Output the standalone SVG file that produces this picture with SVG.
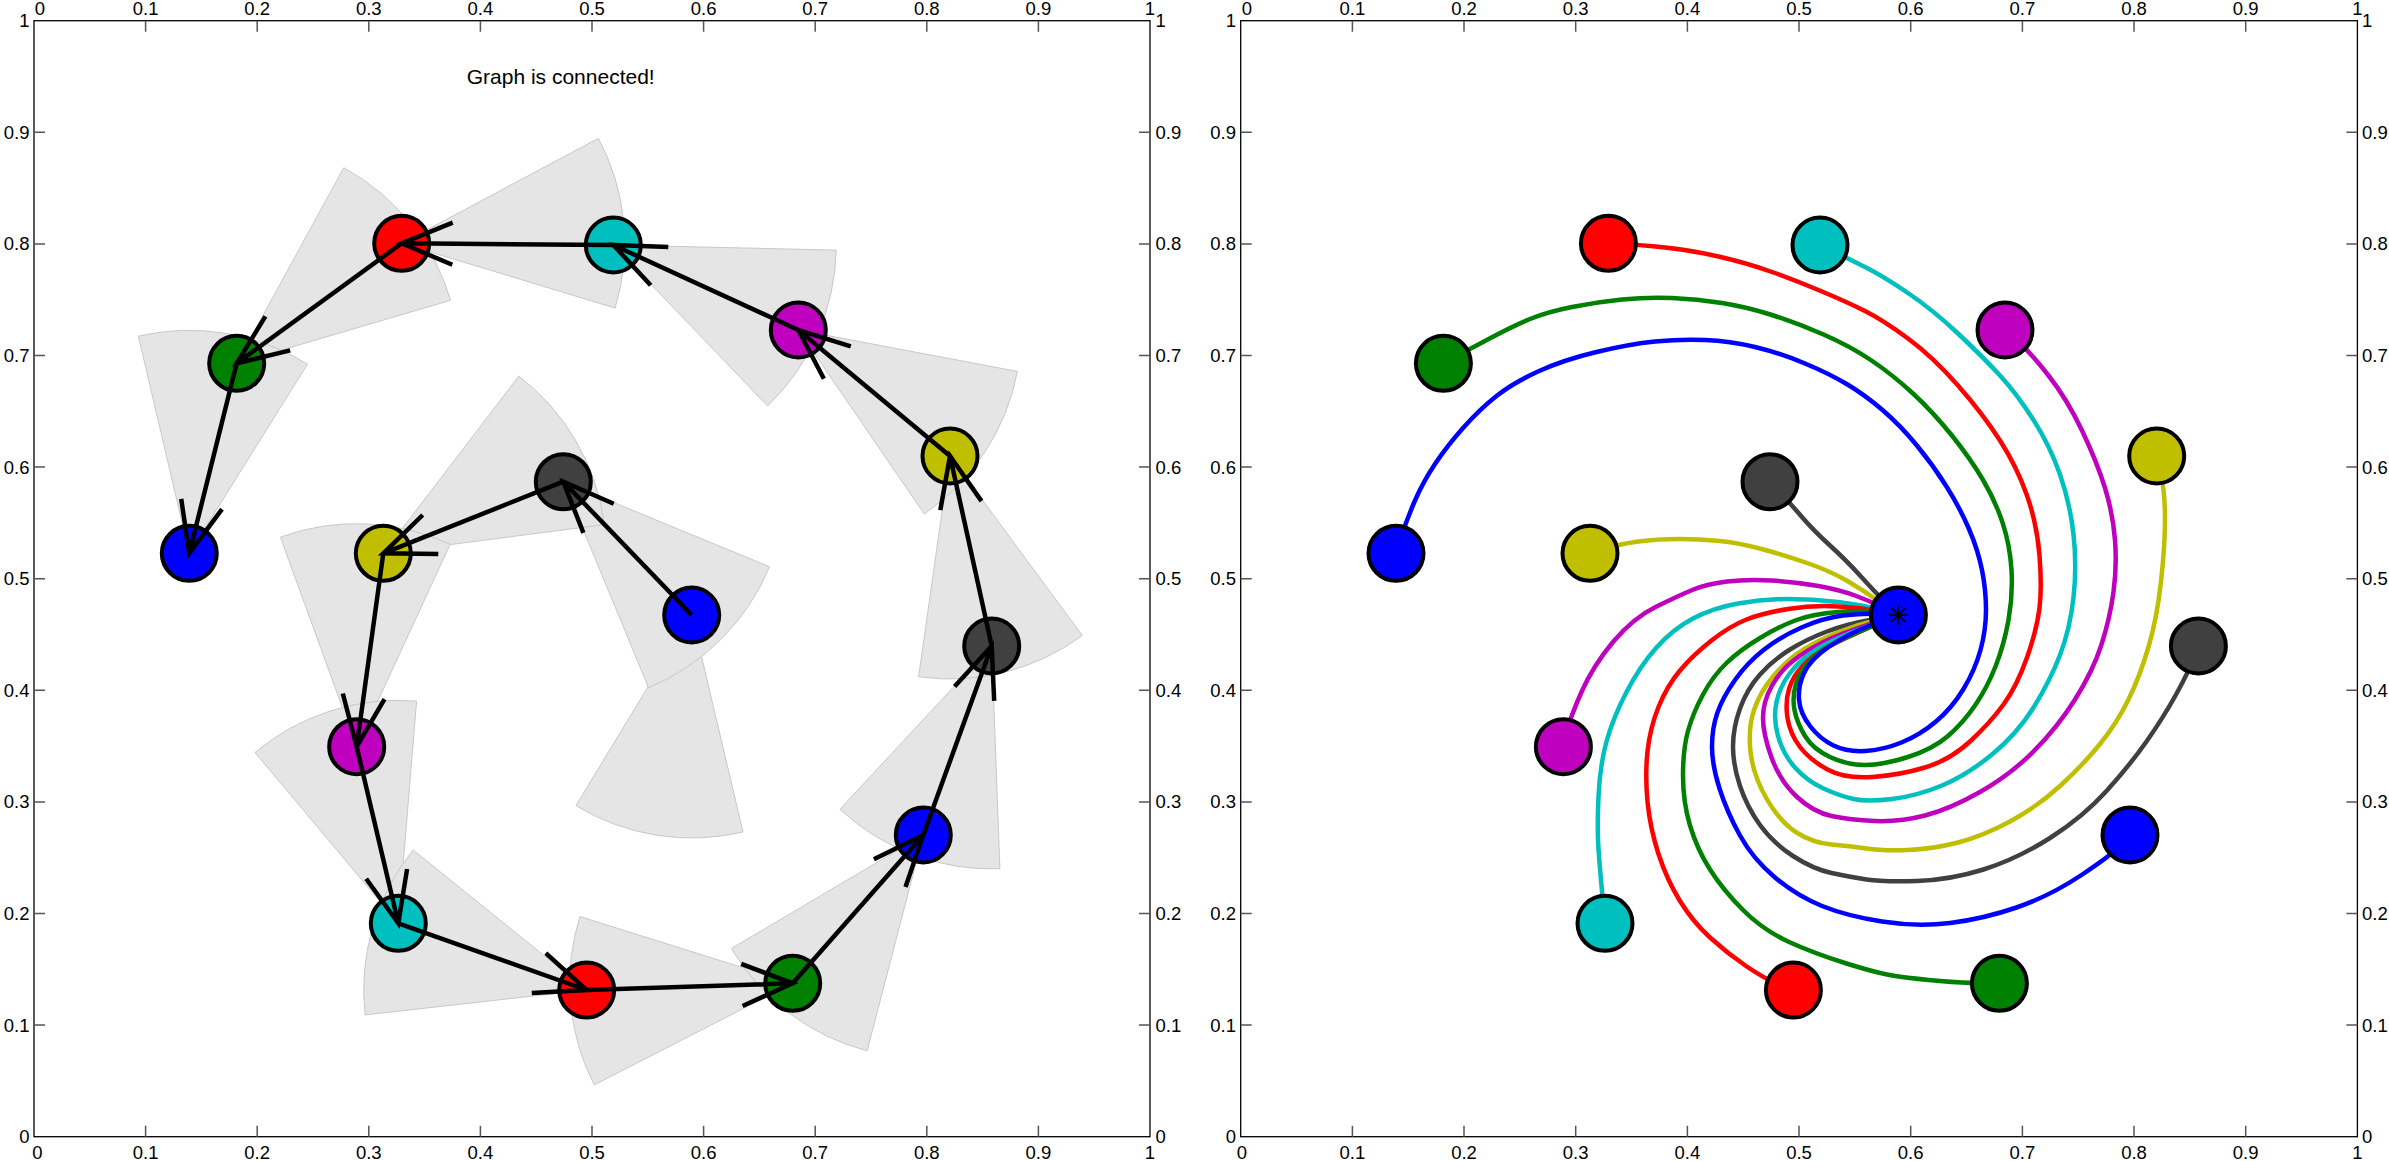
<svg xmlns="http://www.w3.org/2000/svg" width="2389" height="1161" viewBox="0 0 2389 1161">
<style>
.ax{fill:none;stroke:#000;stroke-width:1.3}
.tk{fill:none;stroke:#555;stroke-width:1.5}
.lb{font-family:"Liberation Sans",Arial,sans-serif;font-size:18.5px;fill:#000}
.mid{text-anchor:middle}.end{text-anchor:end}.sta{text-anchor:start}
.sec{fill:#e5e5e5;stroke:#c8c8c8;stroke-width:1}
.edge{fill:none;stroke:#000;stroke-width:4.5;stroke-linecap:butt;stroke-linejoin:miter}
.nd{stroke:#000;stroke-width:4}
.cv{fill:none;stroke-width:4.5;stroke-linejoin:round;stroke-linecap:round}
.b{fill:#0000ff}.g{fill:#008000}.r{fill:#ff0000}.c{fill:#00bfbf}.m{fill:#bf00bf}.y{fill:#bfbf00}.k{fill:#404040}
</style>
<defs>
<clipPath id="clipL"><rect x="0" y="0" width="1181" height="1161"/></clipPath>
</defs>
<rect width="2389" height="1161" fill="#fff"/>

<!-- LEFT AXES -->
<g id="left-axes">
<rect class="ax" x="34" y="20.7" width="1116" height="1116"/>
<path class="tk" d="M145.6 20.7v11M257.2 20.7v11M368.8 20.7v11M480.4 20.7v11M592 20.7v11M703.6 20.7v11M815.2 20.7v11M926.8 20.7v11M1038.4 20.7v11
M145.6 1136.7v-11M257.2 1136.7v-11M368.8 1136.7v-11M480.4 1136.7v-11M592 1136.7v-11M703.6 1136.7v-11M815.2 1136.7v-11M926.8 1136.7v-11M1038.4 1136.7v-11
M34 1025.1h11M34 913.5h11M34 801.9h11M34 690.3h11M34 578.7h11M34 467.1h11M34 355.5h11M34 243.9h11M34 132.3h11
M1150 1025.1h-11M1150 913.5h-11M1150 801.9h-11M1150 690.3h-11M1150 578.7h-11M1150 467.1h-11M1150 355.5h-11M1150 243.9h-11M1150 132.3h-11"/>
<g class="lb mid">
<text x="40" y="15">0</text><text x="145.6" y="15">0.1</text><text x="257.2" y="15">0.2</text><text x="368.8" y="15">0.3</text><text x="480.4" y="15">0.4</text><text x="592" y="15">0.5</text><text x="703.6" y="15">0.6</text><text x="815.2" y="15">0.7</text><text x="926.8" y="15">0.8</text><text x="1038.4" y="15">0.9</text><text x="1150" y="15">1</text>
<text x="37.5" y="1159">0</text><text x="145.6" y="1159">0.1</text><text x="257.2" y="1159">0.2</text><text x="368.8" y="1159">0.3</text><text x="480.4" y="1159">0.4</text><text x="592" y="1159">0.5</text><text x="703.6" y="1159">0.6</text><text x="815.2" y="1159">0.7</text><text x="926.8" y="1159">0.8</text><text x="1038.4" y="1159">0.9</text><text x="1150" y="1159">1</text>
</g>
<g class="lb end">
<text x="29.5" y="1143.2">0</text><text x="29.5" y="1031.6">0.1</text><text x="29.5" y="920">0.2</text><text x="29.5" y="808.4">0.3</text><text x="29.5" y="696.8">0.4</text><text x="29.5" y="585.2">0.5</text><text x="29.5" y="473.6">0.6</text><text x="29.5" y="362">0.7</text><text x="29.5" y="250.4">0.8</text><text x="29.5" y="138.8">0.9</text><text x="29.5" y="27.2">1</text>
</g>
<g class="lb sta" clip-path="url(#clipL)">
<text x="1155.5" y="1143.2">0</text><text x="1155.5" y="1031.6">0.1</text><text x="1155.5" y="920">0.2</text><text x="1155.5" y="808.4">0.3</text><text x="1155.5" y="696.8">0.4</text><text x="1155.5" y="585.2">0.5</text><text x="1155.5" y="473.6">0.6</text><text x="1155.5" y="362">0.7</text><text x="1155.5" y="250.4">0.8</text><text x="1155.5" y="138.8">0.9</text><text x="1155.5" y="27.2">1</text>
</g>
<text id="title" class="lb mid" x="560.7" y="83.5" style="font-size:21px">Graph is connected!</text>
</g>

<!-- SECTORS -->
<g id="sectors">
<path id="sec1" class="sec" d="M691.7 615L575.9 805.6A223 223 0 0 0 743 832Z"/>
<path id="sec2" class="sec" d="M563.3 481.7L648.6 687.7A223 223 0 0 0 769.5 566.7Z"/>
<path id="sec3" class="sec" d="M383.3 553.3L604.4 524.6A223 223 0 0 0 518.8 376.1Z"/>
<path id="sec4" class="sec" d="M356.7 746.7L450.2 544.3A223 223 0 0 0 280.4 537.1Z"/>
<path id="sec5" class="sec" d="M398.3 923.3L416.6 701.1A223 223 0 0 0 255 752.5Z"/>
<path id="sec6" class="sec" d="M586.7 990L413.2 850A223 223 0 0 0 365.1 1014.9Z"/>
<path id="sec7" class="sec" d="M792.7 983.3L579.9 916.6A223 223 0 0 0 594.2 1084.9Z"/>
<path id="sec8" class="sec" d="M923.3 835L731.4 948.5A223 223 0 0 0 867.1 1050.8Z"/>
<path id="sec9" class="sec" d="M991.7 646L839.9 809.3A223 223 0 0 0 999.9 868.8Z"/>
<path id="sec10" class="sec" d="M950 456L918.6 676.8A223 223 0 0 0 1082.3 635.5Z"/>
<path id="sec11" class="sec" d="M798.3 330L924.3 514A223 223 0 0 0 1017.4 371.4Z"/>
<path id="sec12" class="sec" d="M613.3 245L767.6 406A223 223 0 0 0 836.2 250.1Z"/>
<path id="sec13" class="sec" d="M401.7 243.3L615.1 308.1A223 223 0 0 0 598.4 138.3Z"/>
<path id="sec14" class="sec" d="M236.7 363.3L450.6 300.3A223 223 0 0 0 343.8 167.7Z"/>
<path id="sec15" class="sec" d="M189.3 553.3L307.5 364.2A223 223 0 0 0 138.4 336.2Z"/>
</g>

<!-- LEFT NODES -->
<g id="left-nodes">
<g id="L1"><circle class="nd b" cx="691.7" cy="615" r="27.5"/></g>
<g id="L2"><circle class="nd k" cx="563.3" cy="481.7" r="27.5"/></g>
<g id="L3"><circle class="nd y" cx="383.3" cy="553.3" r="27.5"/></g>
<g id="L4"><circle class="nd m" cx="356.7" cy="746.7" r="27.5"/></g>
<g id="L5"><circle class="nd c" cx="398.3" cy="923.3" r="27.5"/></g>
<g id="L6"><circle class="nd r" cx="586.7" cy="990" r="27.5"/></g>
<g id="L7"><circle class="nd g" cx="792.7" cy="983.3" r="27.5"/></g>
<g id="L8"><circle class="nd b" cx="923.3" cy="835" r="27.5"/></g>
<g id="L9"><circle class="nd k" cx="991.7" cy="646" r="27.5"/></g>
<g id="L10"><circle class="nd y" cx="950" cy="456" r="27.5"/></g>
<g id="L11"><circle class="nd m" cx="798.3" cy="330" r="27.5"/></g>
<g id="L12"><circle class="nd c" cx="613.3" cy="245" r="27.5"/></g>
<g id="L13"><circle class="nd r" cx="401.7" cy="243.3" r="27.5"/></g>
<g id="L14"><circle class="nd g" cx="236.7" cy="363.3" r="27.5"/></g>
<g id="L15"><circle class="nd b" cx="189.3" cy="553.3" r="27.5"/></g>
</g>

<!-- LEFT CONNECTORS (arrows) -->
<g id="left-connectors" class="edge">
<path d="M691.7 615L563.3 481.7M583.4 532.9L563.3 481.7L613.7 503.7"/>
<path d="M563.3 481.7L383.3 553.3M438.3 554.1L383.3 553.3L422.7 515"/>
<path d="M383.3 553.3L356.7 746.7M384.5 699.2L356.7 746.7L342.8 693.5"/>
<path d="M356.7 746.7L398.3 923.3M407.1 869L398.3 923.3L366.2 878.7"/>
<path d="M398.3 923.3L586.7 990M545.8 953.2L586.7 990L531.8 992.9"/>
<path d="M586.7 990L792.7 983.3M741.2 963.9L792.7 983.3L742.6 1006"/>
<path d="M792.7 983.3L923.3 835M873.9 859.2L923.3 835L905.5 887"/>
<path d="M923.3 835L991.7 646M954.6 686.6L991.7 646L994.2 700.9"/>
<path d="M991.7 646L950 456M940.3 510.2L950 456L981.5 501.1"/>
<path d="M950 456L798.3 330M823.9 378.7L798.3 330L850.8 346.3"/>
<path d="M798.3 330L613.3 245M650.7 285.3L613.3 245L668.3 247.1"/>
<path d="M613.3 245L401.7 243.3M452.3 264.8L401.7 243.3L452.7 222.7"/>
<path d="M401.7 243.3L236.7 363.3M290.2 350.4L236.7 363.3L265.4 316.4"/>
<path d="M236.7 363.3L189.3 553.3M222 509.1L189.3 553.3L181.2 498.9"/>
</g>

<!-- RIGHT AXES -->
<g id="right-axes">
<rect class="ax" x="1240.7" y="20.7" width="1116.7" height="1116"/>
<path class="tk" d="M1352.4 20.7v11M1464 20.7v11M1575.7 20.7v11M1687.4 20.7v11M1799 20.7v11M1910.7 20.7v11M2022.4 20.7v11M2134 20.7v11M2245.7 20.7v11
M1352.4 1136.7v-11M1464 1136.7v-11M1575.7 1136.7v-11M1687.4 1136.7v-11M1799 1136.7v-11M1910.7 1136.7v-11M2022.4 1136.7v-11M2134 1136.7v-11M2245.7 1136.7v-11
M1240.7 1025.1h11M1240.7 913.5h11M1240.7 801.9h11M1240.7 690.3h11M1240.7 578.7h11M1240.7 467.1h11M1240.7 355.5h11M1240.7 243.9h11M1240.7 132.3h11
M2357.4 1025.1h-11M2357.4 913.5h-11M2357.4 801.9h-11M2357.4 690.3h-11M2357.4 578.7h-11M2357.4 467.1h-11M2357.4 355.5h-11M2357.4 243.9h-11M2357.4 132.3h-11"/>
<g class="lb mid">
<text x="1247" y="15">0</text><text x="1352.4" y="15">0.1</text><text x="1464" y="15">0.2</text><text x="1575.7" y="15">0.3</text><text x="1687.4" y="15">0.4</text><text x="1799" y="15">0.5</text><text x="1910.7" y="15">0.6</text><text x="2022.4" y="15">0.7</text><text x="2134" y="15">0.8</text><text x="2245.7" y="15">0.9</text><text x="2357.4" y="15">1</text>
<text x="1242" y="1159">0</text><text x="1352.4" y="1159">0.1</text><text x="1464" y="1159">0.2</text><text x="1575.7" y="1159">0.3</text><text x="1687.4" y="1159">0.4</text><text x="1799" y="1159">0.5</text><text x="1910.7" y="1159">0.6</text><text x="2022.4" y="1159">0.7</text><text x="2134" y="1159">0.8</text><text x="2245.7" y="1159">0.9</text><text x="2357.4" y="1159">1</text>
</g>
<g class="lb end">
<text x="1236" y="1143.2">0</text><text x="1236" y="1031.6">0.1</text><text x="1236" y="920">0.2</text><text x="1236" y="808.4">0.3</text><text x="1236" y="696.8">0.4</text><text x="1236" y="585.2">0.5</text><text x="1236" y="473.6">0.6</text><text x="1236" y="362">0.7</text><text x="1236" y="250.4">0.8</text><text x="1236" y="138.8">0.9</text><text x="1236" y="27.2">1</text>
</g>
<g class="lb sta">
<text x="2362" y="1143.2">0</text><text x="2362" y="1031.6">0.1</text><text x="2362" y="920">0.2</text><text x="2362" y="808.4">0.3</text><text x="2362" y="696.8">0.4</text><text x="2362" y="585.2">0.5</text><text x="2362" y="473.6">0.6</text><text x="2362" y="362">0.7</text><text x="2362" y="250.4">0.8</text><text x="2362" y="138.8">0.9</text><text x="2362" y="27.2">1</text>
</g>
</g>

<!-- RIGHT CONNECTORS (trajectories) -->
<g id="right-connectors" class="cv">
<path stroke="#bfbf00" d="M1898 615 L1880.5 602.5 Q1863 590 1846.5 580.5 Q1830 571 1808.5 563.5 Q1787 556 1763.5 549.5 Q1740 543 1720 541 Q1700 539 1678.5 539 Q1657 539 1638.5 541.5 Q1620 544 1605 548.5 L1590 553"/>
<path stroke="#404040" d="M1898 615 L1885.5 602.5 Q1873 590 1860 575.5 Q1847 561 1830 545.5 Q1813 530 1801.5 516.5 Q1790 503 1780 492.5 L1770 482"/>
<path stroke="#bf00bf" d="M1898 615 L1884 608 Q1870 601 1855 595.5 Q1840 590 1818.5 586 Q1797 582 1772 580.5 Q1747 579 1727 581.5 Q1707 584 1693.5 589.5 Q1680 595 1656.5 606.5 Q1633 618 1613 642 Q1593 666 1581.5 692 Q1570 718 1566.5 732.5 L1563 747"/>
<path stroke="#00bfbf" d="M1898 615 L1880.5 610 Q1863 605 1838 602 Q1813 599 1788 599 Q1763 599 1738 603.5 Q1713 608 1693 618.5 Q1673 629 1656.5 647.5 Q1640 666 1626.5 692 Q1613 718 1606.5 741.5 Q1600 765 1598.5 796.5 Q1597 828 1598.5 849 Q1600 870 1602.5 896.5 L1605 923"/>
<path stroke="#ff0000" d="M1898 615 L1880.5 611.5 Q1863 608 1838 606.5 Q1813 605 1788 609 Q1763 613 1746.5 619.5 Q1730 626 1711.5 640.5 Q1693 655 1680 670.5 Q1667 686 1658.5 707 Q1650 728 1647.5 751.5 Q1645 775 1647.5 801.5 Q1650 828 1658.5 854 Q1667 880 1680 901 Q1693 922 1710 937.5 Q1727 953 1746 966 Q1765 979 1779 984.5 L1793 990"/>
<path stroke="#008000" d="M1898 615 L1880.5 612.5 Q1863 610 1838 612 Q1813 614 1796.5 620 Q1780 626 1760 638 Q1740 650 1726.5 663 Q1713 676 1703 694.5 Q1693 713 1688 731 Q1683 749 1683 775.5 Q1683 802 1690 825.5 Q1697 849 1710 869.5 Q1723 890 1743 910 Q1763 930 1788 941.5 Q1813 953 1846.5 963.5 Q1880 974 1898.5 976.5 Q1917 979 1940 981 Q1963 983 1981 983 L1999 983"/>
<path stroke="#0000ff" d="M1898 615 L1880.5 614 Q1863 613 1843 615.5 Q1823 618 1801.5 627.5 Q1780 637 1763.5 650 Q1747 663 1735 680 Q1723 697 1717.5 712.5 Q1712 728 1712 746.5 Q1712 765 1719.5 788.5 Q1727 812 1740 835.5 Q1753 859 1775 877.5 Q1797 896 1822 906 Q1847 916 1882 921.5 Q1917 927 1950 923 Q1983 919 2016.5 907.5 Q2050 896 2081.5 875 Q2113 854 2121.5 844.5 L2130 835"/>
<path stroke="#404040" d="M1898 615 L1872.5 619.5 Q1847 624 1827 631.5 Q1807 639 1790 649.5 Q1773 660 1760 674.5 Q1747 689 1740 708.5 Q1733 728 1733 746.5 Q1733 765 1740 786 Q1747 807 1760 825 Q1773 843 1793 856 Q1813 869 1831.5 873 Q1850 877 1866.5 879.5 Q1883 882 1916.5 881 Q1950 880 1983.5 869.5 Q2017 859 2050 838 Q2083 817 2106.5 791 Q2130 765 2146.5 741.5 Q2163 718 2175.5 695.5 Q2188 673 2193 659.5 L2198 646"/>
<path stroke="#bfbf00" d="M1898 615 L1879 619.5 Q1860 624 1840 631.5 Q1820 639 1803.5 649.5 Q1787 660 1773.5 676 Q1760 692 1754 710 Q1748 728 1750.5 751.5 Q1753 775 1766.5 798.5 Q1780 822 1796.5 832.5 Q1813 843 1831.5 844.5 Q1850 846 1866.5 848.5 Q1883 851 1908 850 Q1933 849 1958 842.5 Q1983 836 2010 821.5 Q2037 807 2060 786 Q2083 765 2100 744 Q2117 723 2128.5 699.5 Q2140 676 2148.5 647 Q2157 618 2161 581.5 Q2165 545 2165 519 Q2165 493 2161 474.5 L2157 456"/>
<path stroke="#bf00bf" d="M1898 615 L1869 624.5 Q1840 634 1823.5 642 Q1807 650 1793.5 660.5 Q1780 671 1771.5 686.5 Q1763 702 1763 718 Q1763 734 1771.5 757.5 Q1780 781 1796.5 796.5 Q1813 812 1831.5 816 Q1850 820 1875 821 Q1900 822 1925 815.5 Q1950 809 1980 792 Q2010 775 2033.5 751.5 Q2057 728 2075 699.5 Q2093 671 2101.5 644.5 Q2110 618 2113.5 592 Q2117 566 2115 540 Q2113 514 2105 488 Q2097 462 2082 430.5 Q2067 399 2048.5 375.5 Q2030 352 2017.5 341 L2005 330"/>
<path stroke="#00bfbf" d="M1898 615 L1865.5 627 Q1833 639 1816.5 649.5 Q1800 660 1790 673 Q1780 686 1776.5 702 Q1773 718 1778 736 Q1783 754 1795 767.5 Q1807 781 1823.5 788.5 Q1840 796 1853.5 799 Q1867 802 1892 799 Q1917 796 1942 785.5 Q1967 775 1992 754.5 Q2017 734 2033.5 707.5 Q2050 681 2060 655 Q2070 629 2073.5 597.5 Q2077 566 2073.5 534.5 Q2070 503 2060 474.5 Q2050 446 2033.5 420 Q2017 394 2000 375.5 Q1983 357 1958 333.5 Q1933 310 1908 293 Q1883 276 1865 267 Q1847 258 1833.5 251.5 L1820 245"/>
<path stroke="#ff0000" d="M1898 615 L1870.5 627 Q1843 639 1828 647 Q1813 655 1803 665.5 Q1793 676 1789 689 Q1785 702 1787.5 718 Q1790 734 1800 747 Q1810 760 1827.5 769.5 Q1845 779 1872.5 777 Q1900 775 1925 767.5 Q1950 760 1970 741.5 Q1990 723 2003.5 704.5 Q2017 686 2027 657.5 Q2037 629 2039.5 608 Q2042 587 2039.5 555.5 Q2037 524 2027 495.5 Q2017 467 2000 440.5 Q1983 414 1958 385.5 Q1933 357 1908 338.5 Q1883 320 1865 311 Q1847 302 1822 291.5 Q1797 281 1772 272 Q1747 263 1718.5 256.5 Q1690 250 1665 247.5 Q1640 245 1624 244 L1608 243"/>
<path stroke="#008000" d="M1898 615 L1872.5 626 Q1847 637 1833.5 643.5 Q1820 650 1810 660.5 Q1800 671 1796 684 Q1792 697 1794.5 710 Q1797 723 1805 736 Q1813 749 1830 757 Q1847 765 1865 765 Q1883 765 1908 757 Q1933 749 1948 736 Q1963 723 1975 705.5 Q1987 688 1995.5 666.5 Q2004 645 2008.5 620 Q2013 595 2011.5 570 Q2010 545 2002.5 522.5 Q1995 500 1982.5 479 Q1970 458 1951.5 435 Q1933 412 1913 393.5 Q1893 375 1871.5 360.5 Q1850 346 1823.5 334.5 Q1797 323 1772 315 Q1747 307 1722 303 Q1697 299 1672 298 Q1647 297 1622 299.5 Q1597 302 1572 307 Q1547 312 1530 319 Q1513 326 1491.5 337.5 Q1470 349 1456.5 356 L1443 363"/>
<path stroke="#0000ff" d="M1898 615 L1872.5 624.5 Q1847 634 1828.5 647 Q1810 660 1804 673 Q1798 686 1799 699.5 Q1800 713 1810 726 Q1820 739 1833.5 745.5 Q1847 752 1865 751 Q1883 750 1901.5 742.5 Q1920 735 1936 721.5 Q1952 708 1963.5 689 Q1975 670 1980.5 650 Q1986 630 1986 610 Q1986 590 1982 570 Q1978 550 1969 529 Q1960 508 1946.5 486.5 Q1933 465 1916.5 445 Q1900 425 1882.5 410 Q1865 395 1847.5 384.5 Q1830 374 1805 363.5 Q1780 353 1755 347 Q1730 341 1705 340 Q1680 339 1655 341.5 Q1630 344 1596.5 352 Q1563 360 1538 371.5 Q1513 383 1496.5 396 Q1480 409 1463.5 427.5 Q1447 446 1435 464 Q1423 482 1415 500.5 Q1407 519 1401.5 536 L1396 553"/>
</g>

<!-- RIGHT NODES -->
<g id="right-nodes">
<g id="R1"><circle class="nd b" cx="1898.4" cy="615" r="27.5"/><path d="M1888.4 615h20M1898.4 605v20M1891.3 607.9l14.2 14.2M1891.3 622.1l14.2-14.2" stroke="#000" stroke-width="1.5" fill="none"/></g>
<g id="R2"><circle class="nd k" cx="1770" cy="481.7" r="27.5"/></g>
<g id="R3"><circle class="nd y" cx="1590" cy="553.3" r="27.5"/></g>
<g id="R4"><circle class="nd m" cx="1563.4" cy="746.7" r="27.5"/></g>
<g id="R5"><circle class="nd c" cx="1605" cy="923.3" r="27.5"/></g>
<g id="R6"><circle class="nd r" cx="1793.4" cy="990" r="27.5"/></g>
<g id="R7"><circle class="nd g" cx="1999.4" cy="983.3" r="27.5"/></g>
<g id="R8"><circle class="nd b" cx="2130" cy="835" r="27.5"/></g>
<g id="R9"><circle class="nd k" cx="2198.4" cy="646" r="27.5"/></g>
<g id="R10"><circle class="nd y" cx="2156.7" cy="456" r="27.5"/></g>
<g id="R11"><circle class="nd m" cx="2005" cy="330" r="27.5"/></g>
<g id="R12"><circle class="nd c" cx="1820" cy="245" r="27.5"/></g>
<g id="R13"><circle class="nd r" cx="1608.4" cy="243.3" r="27.5"/></g>
<g id="R14"><circle class="nd g" cx="1443.4" cy="363.3" r="27.5"/></g>
<g id="R15"><circle class="nd b" cx="1396" cy="553.3" r="27.5"/></g>
</g>
</svg>
